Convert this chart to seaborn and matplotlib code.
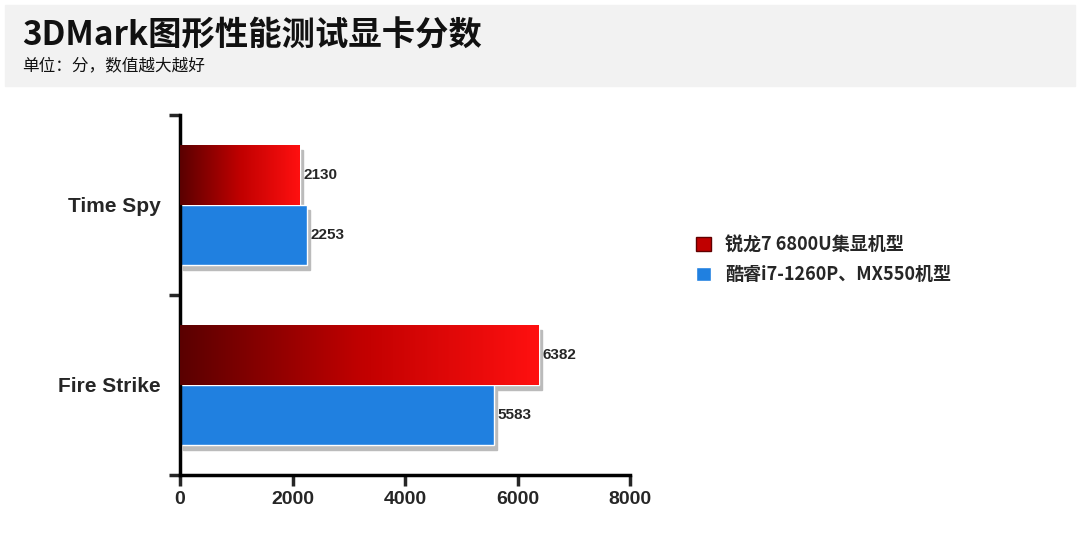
import numpy as np
import pandas as pd
import matplotlib
matplotlib.use("Agg")
import matplotlib.pyplot as plt
import seaborn as sns
from matplotlib.colors import LinearSegmentedColormap
from matplotlib.patches import Patch, Rectangle

# data
tests = ["Time Spy", "Fire Strike"]
series = ["锐龙7 6800U集显机型", "酷睿i7-1260P、MX550机型"]
amd_scores = [2130, 6382]
intel_scores = [2253, 5583]

df = pd.DataFrame({
    "test": tests * 2,
    "model": [series[0]] * 2 + [series[1]] * 2,
    "score": amd_scores + intel_scores,
})

sns.set_style("white")
plt.rcParams["font.family"] = ["Noto Sans CJK SC", "DejaVu Sans"]

fig = plt.figure(figsize=(10.8, 5.47), dpi=100)
# grey title banner
fig.patches.append(Rectangle((5 / 1080, 1 - 86 / 547), 1070 / 1080, 81 / 547,
                             transform=fig.transFigure, color="#f2f2f2", zorder=0))
fig.text(22 / 1080, 1 - 36 / 547, "3DMark图形性能测试显卡分数", fontsize=24,
         fontweight="bold", va="center", color="#111111")
fig.text(22 / 1080, 1 - 66 / 547, "单位：分，数值越大越好", fontsize=12,
         va="center", color="#111111")

ax = fig.add_axes([180 / 1080, 1 - 475 / 547, 450 / 1080, 360 / 547])
sns.barplot(data=df, y="test", x="score", hue="model", orient="h",
            palette=["#e00000", "#2080e0"], width=0.667, ax=ax, legend=False,
            saturation=1)

ax.set_xlim(0, 8000)
ax.set_ylim(1.5, -0.5)
ax.set_xticks([0, 2000, 4000, 6000, 8000])
ax.set_xticklabels(["0", "2000", "4000", "6000", "8000"], fontsize=14,
                   fontweight="bold", family=["Liberation Sans", "DejaVu Sans"])
ax.set_yticks([-0.5, 0.5, 1.5])
ax.set_yticklabels([])
ax.set_yticks([0, 1], minor=True)
ax.set_yticklabels(tests, minor=True, fontsize=15, fontweight="bold",
                   family=["Liberation Sans", "DejaVu Sans"])
ax.tick_params(axis="y", which="minor", length=0, pad=14)
ax.tick_params(axis="y", which="major", length=8, width=2.5, direction="out", left=True)
ax.tick_params(axis="x", length=8, width=2.5, direction="out", bottom=True)
ax.set_xlabel("")
ax.set_ylabel("")
for s in ["top", "right"]:
    ax.spines[s].set_visible(False)
for s in ["left", "bottom"]:
    ax.spines[s].set_linewidth(2.5)
    ax.spines[s].set_color("black")

red_cmap = LinearSegmentedColormap.from_list("r", ["#5a0000", "#c00000", "#ff1010"])
grad = np.linspace(0, 1, 256).reshape(1, -1)
for i, bar in enumerate(ax.patches):
    x0, y0 = bar.get_x(), bar.get_y()
    w, h = bar.get_width(), bar.get_height()
    # drop shadow
    ax.add_patch(Rectangle((x0 + 50, y0 + 0.03), w, h, color="#bbbbbb", zorder=1))
    bar.set_zorder(2)
    if i < 2:
        im = ax.imshow(grad, cmap=red_cmap, aspect="auto",
                       extent=[x0, x0 + w, y0 + h, y0], zorder=3)
        im.set_clip_path(bar)
    ax.text(x0 + w + 60, y0 + h / 2, f"{int(w)}", va="center", ha="left",
            fontsize=11, fontweight="bold", zorder=4,
            family=["Liberation Sans", "DejaVu Sans"])
ax.set_xlim(0, 8000)
ax.set_ylim(1.5, -0.5)

handles = [Patch(facecolor="#c00000", edgecolor="#600000"), Patch(facecolor="#2080e0")]
fig.legend(handles, series, loc="center left", bbox_to_anchor=(680 / 1080, 1 - 260 / 547),
           frameon=False, fontsize=13, handlelength=0.8, handleheight=0.8,
           labelspacing=0.6, prop={"size": 13, "weight": "bold"})

fig.savefig("out.png", dpi=100)
